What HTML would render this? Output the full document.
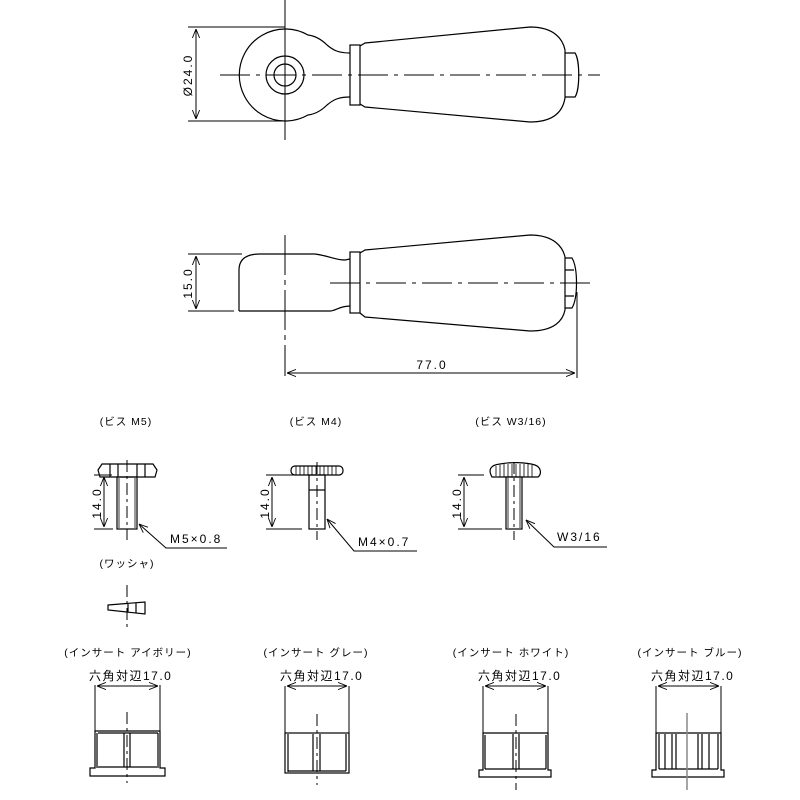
<!DOCTYPE html>
<html><head><meta charset="utf-8"><style>
html,body{margin:0;padding:0;background:#fff;}
svg{display:block;}
text{font-family:"Liberation Sans","Noto Sans CJK JP",sans-serif;fill:#000;}
.t{font-size:12px;letter-spacing:2px;}
.j{font-size:10.5px;letter-spacing:1px;}
</style></head><body>
<svg width="800" height="800" viewBox="0 0 800 800" xmlns="http://www.w3.org/2000/svg">
<defs>
<marker id="a" viewBox="0 0 10 10" refX="10" refY="5" markerWidth="9" markerHeight="9" orient="auto-start-reverse"><path d="M0,1 L10,5 L0,9" fill="none" stroke="#000" stroke-width="1"/></marker>
</defs>
<g fill="none" stroke="#000" stroke-width="1.2">
<!-- TOP VIEW -->
<line x1="285" y1="0" x2="285" y2="140" stroke-width="1"/>
<line x1="220" y1="75" x2="600" y2="75" stroke-dasharray="30,6,4,6" stroke-width="1"/>
<path d="M350,53 C338,53 333,50 327,45 C322,40 316,36 308,35 A46,46 0 1 0 308,115 C316,114 322,110 327,105 C333,100 338,97 350,97"/>
<rect x="350" y="45" width="10" height="60"/>
<path d="M360,46 L365,43 L530,27 C555,27 563,40 565,50 L565,98 C563,110 555,122 530,122 L365,107 L360,104"/>
<path d="M565,53 L575,53 C580,60 580,90 575,97 L565,97"/>
<circle cx="285" cy="75" r="19"/>
<circle cx="285" cy="75" r="11"/>
<line x1="188" y1="27" x2="285" y2="27" stroke-width="1"/>
<line x1="188" y1="121" x2="285" y2="121" stroke-width="1"/>
<line x1="196" y1="29" x2="196" y2="119" stroke-width="1" marker-start="url(#a)" marker-end="url(#a)"/>
<!-- SIDE VIEW -->
<line x1="285" y1="235" x2="285" y2="376" stroke-width="1" stroke-dasharray="40,5,5,5"/>
<line x1="330" y1="283" x2="596" y2="283" stroke-dasharray="30,6,4,6" stroke-width="1"/>
<path d="M239,311 L239,270 C239,260 245,254 260,254 L315,254 C330,256 335,260 345,260 L350,259"/>
<path d="M239,311 L330,311 C335,311 340,306 350,306"/>
<rect x="350" y="252" width="10" height="61"/>
<path d="M360,253 L365,250 L530,235 C555,235 563,248 565,257 L565,310 C563,320 555,331 530,331 L365,317 L360,313"/>
<path d="M565,258 L572,258 C578,268 578,298 572,308 L565,308 M565,270 L574,270 M565,296 L574,296"/>
<line x1="188" y1="254" x2="242" y2="254" stroke-width="1"/>
<line x1="188" y1="311" x2="234" y2="311" stroke-width="1"/>
<line x1="196" y1="256" x2="196" y2="309" stroke-width="1" marker-start="url(#a)" marker-end="url(#a)"/>
<line x1="577" y1="292" x2="577" y2="378" stroke-width="1"/>
<line x1="287" y1="373" x2="575" y2="373" stroke-width="1" marker-start="url(#a)" marker-end="url(#a)"/>
<!-- SCREW 1 -->
<path d="M100,477 L98,470 L102,464 L153,464 L157,470 L155,477 Z M110,477 L110,464 M118,464 L118,477 M137,464 L137,477 M145,477 L145,464"/>
<rect x="117" y="477" width="20" height="52"/>
<line x1="119" y1="478" x2="119" y2="528" stroke-width="0.8"/><line x1="135" y1="478" x2="135" y2="528" stroke-width="0.8"/>
<line x1="127" y1="460" x2="127" y2="540" stroke-dasharray="12,4,3,4" stroke-width="1"/>
<line x1="94" y1="475" x2="112" y2="475" stroke-width="1"/>
<line x1="94" y1="529" x2="113" y2="529" stroke-width="1"/>
<line x1="104" y1="477" x2="104" y2="527" stroke-width="1" marker-start="url(#a)" marker-end="url(#a)"/>
<polyline points="227,548 166,548 139,524" stroke-width="1" marker-end="url(#a)"/>
<!-- SCREW 2 -->
<rect x="291" y="466" width="52" height="9" rx="4"/>
<path d="M296,466v9M300,466v9M304,466v9M308,466v9M312,466v9M316,466v9M320,466v9M324,466v9M328,466v9M332,466v9M336,466v9" stroke-width="0.8"/>
<rect x="309" y="475" width="16" height="54"/>
<line x1="309" y1="490" x2="325" y2="490"/>
<line x1="317" y1="462" x2="317" y2="540" stroke-dasharray="12,4,3,4" stroke-width="1"/>
<line x1="266" y1="475" x2="302" y2="475" stroke-width="1"/>
<line x1="266" y1="529" x2="302" y2="529" stroke-width="1"/>
<line x1="272" y1="477" x2="272" y2="527" stroke-width="1" marker-start="url(#a)" marker-end="url(#a)"/>
<polyline points="417,551 354,551 327,519" stroke-width="1" marker-end="url(#a)"/>
<!-- SCREW 3 -->
<path d="M492,477 C488,470 490,465 500,464 C510,462 525,462 535,465 C541,467 542,474 538,477 Z"/>
<path d="M496,466v10M500,465v12M504,464v13M508,464v13M512,464v13M516,464v13M520,464v13M524,464v13M528,464v13M532,465v12" stroke-width="0.8"/>
<rect x="506" y="477" width="16" height="52"/>
<line x1="508" y1="478" x2="508" y2="528" stroke-width="0.8"/><line x1="520" y1="478" x2="520" y2="528" stroke-width="0.8"/>
<line x1="514" y1="462" x2="514" y2="540" stroke-dasharray="12,4,3,4" stroke-width="1"/>
<line x1="458" y1="475" x2="484" y2="475" stroke-width="1"/>
<line x1="458" y1="529" x2="502" y2="529" stroke-width="1"/>
<line x1="464" y1="477" x2="464" y2="527" stroke-width="1" marker-start="url(#a)" marker-end="url(#a)"/>
<polyline points="607,547 554,547 526,520" stroke-width="1" marker-end="url(#a)"/>
<!-- WASHER -->
<line x1="127" y1="585" x2="127" y2="630" stroke-dasharray="12,4,3,4" stroke-width="1"/>
<path d="M108,605 L145,602 L145,614 L108,610 Z M128,604 L128,612 M136,603 L136,613"/>
<!-- INSERTS -->
<g stroke-width="1">
<line x1="95" y1="685" x2="95" y2="731"/><line x1="160" y1="685" x2="160" y2="731"/>
<line x1="97" y1="686" x2="158" y2="686" marker-start="url(#a)" marker-end="url(#a)"/>
<line x1="285" y1="686" x2="285" y2="733"/><line x1="349" y1="686" x2="349" y2="733"/>
<line x1="287" y1="686" x2="347" y2="686" marker-start="url(#a)" marker-end="url(#a)"/>
<line x1="483" y1="686" x2="483" y2="733"/><line x1="548" y1="686" x2="548" y2="733"/>
<line x1="485" y1="686" x2="546" y2="686" marker-start="url(#a)" marker-end="url(#a)"/>
<line x1="656" y1="686" x2="656" y2="733"/><line x1="721" y1="686" x2="721" y2="733"/>
<line x1="658" y1="686" x2="719" y2="686" marker-start="url(#a)" marker-end="url(#a)"/>
</g>
<!-- ivory -->
<path d="M95,731 L160,731 L160,768 L165,768 L165,776 L90,776 L90,768 L95,768 Z"/>
<path d="M97,733 L97,768 M158,733 L158,768 M98,733 L158,733 M98,767 L157,767 M124,733 L124,767 M130,733 L130,767"/>
<line x1="127" y1="712" x2="127" y2="783" stroke-dasharray="12,4,3,4" stroke-width="1"/>
<!-- gray -->
<rect x="285" y="733" width="64" height="40"/>
<path d="M288,734 L288,772 M313,734 L313,771 M320,734 L320,771 M288,771 L346,771 M346,734 L346,771"/>
<line x1="317" y1="714" x2="317" y2="785" stroke-dasharray="12,4,3,4" stroke-width="1"/>
<!-- white -->
<path d="M483,733 L548,733 L548,770 L551,770 L551,777 L479,777 L479,770 L483,770 Z"/>
<path d="M485,735 L485,769 M546,735 L546,769 M485,769 L546,769 M513,734 L513,769 M519,734 L519,769"/>
<line x1="516" y1="714" x2="516" y2="790" stroke-dasharray="12,4,3,4" stroke-width="1"/>
<!-- blue -->
<path d="M656,733 L721,733 L721,770 L724,770 L724,777 L652,777 L652,770 L656,770 Z"/>
<path d="M659,734 L659,769 M665,734 L665,769 M672,734 L672,769 M676,734 L676,769 M698,734 L698,769 M702,734 L702,769 M709,734 L709,769 M659,769 L718,769 M718,734 L718,769"/>
<line x1="687" y1="713" x2="687" y2="790" stroke="#888" stroke-width="1.5"/>
</g>
<!-- TEXT -->
<text class="t" transform="translate(192,75) rotate(-90)" text-anchor="middle">Ø24.0</text>
<text class="t" transform="translate(192,283) rotate(-90)" text-anchor="middle">15.0</text>
<text class="t" x="432" y="369" text-anchor="middle">77.0</text>
<text class="j" x="126" y="425" text-anchor="middle">(ビス  M5)</text>
<text class="j" x="316" y="425" text-anchor="middle">(ビス  M4)</text>
<text class="j" x="511" y="425" text-anchor="middle">(ビス  W3/16)</text>
<text class="t" transform="translate(101,503) rotate(-90)" text-anchor="middle">14.0</text>
<text class="t" transform="translate(269,503) rotate(-90)" text-anchor="middle">14.0</text>
<text class="t" transform="translate(461,503) rotate(-90)" text-anchor="middle">14.0</text>
<text class="t" x="170" y="543">M5×0.8</text>
<text class="t" x="358" y="546">M4×0.7</text>
<text class="t" x="557" y="541">W3/16</text>
<text class="j" x="127" y="567" text-anchor="middle">(ワッシャ)</text>
<text class="j" x="128" y="656" text-anchor="middle">(インサート  アイボリー)</text>
<text class="j" x="316" y="656" text-anchor="middle">(インサート  グレー)</text>
<text class="j" x="511" y="656" text-anchor="middle">(インサート  ホワイト)</text>
<text class="j" x="690" y="656" text-anchor="middle">(インサート  ブルー)</text>
<text class="t" x="89" y="680" style="letter-spacing:1.5px">六角対辺17.0</text>
<text class="t" x="280" y="680" style="letter-spacing:1.5px">六角対辺17.0</text>
<text class="t" x="478" y="680" style="letter-spacing:1.5px">六角対辺17.0</text>
<text class="t" x="651" y="680" style="letter-spacing:1.5px">六角対辺17.0</text>
</svg>
</body></html>
